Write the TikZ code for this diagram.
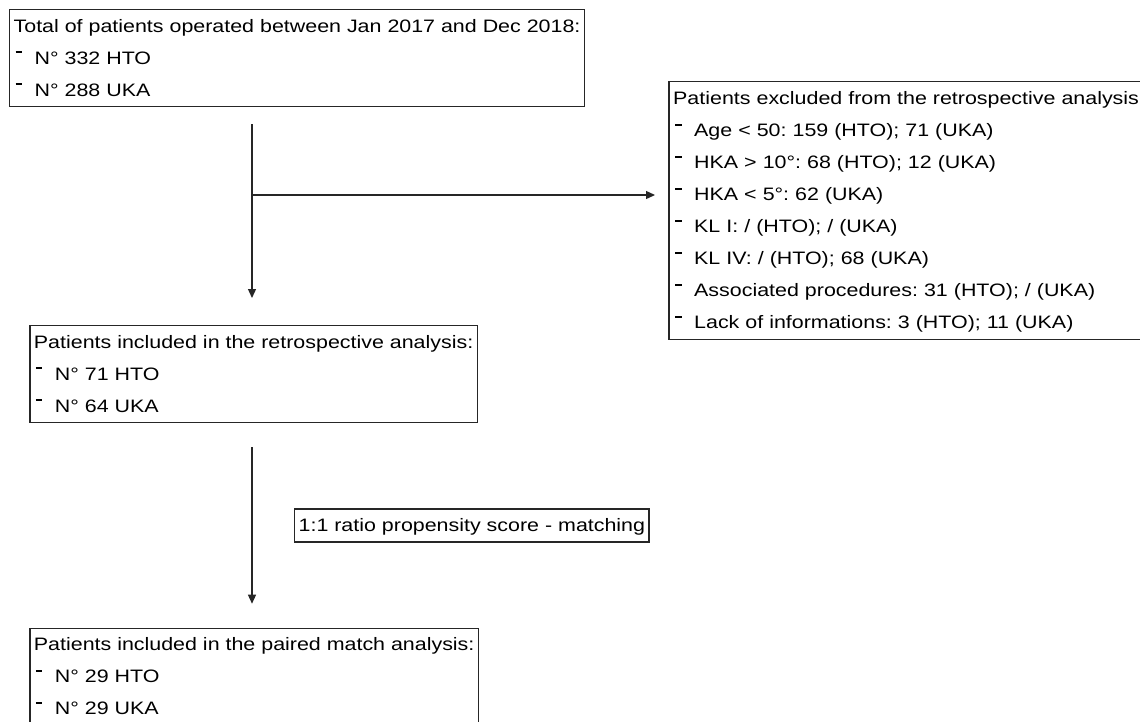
\documentclass[tikz,border=0pt]{standalone}
\usepackage{fontspec}
\setmainfont[FakeStretch=1.19]{Liberation Sans}
\usetikzlibrary{arrows.meta}
\frenchspacing
\newcommand\topst{\rule{0pt}{22.6pt}}
\newcommand\botst{\rule[-10.5pt]{0pt}{10.5pt}}
\newcommand\itm[1]{\makebox[21pt][l]{\hspace*{2pt}\rule[11pt]{6.5pt}{2pt}}#1}
\tikzset{
  flowtext/.style={align=left, anchor=north west,
    inner xsep=4pt, inner ysep=0pt, font=\fontsize{18}{32}\selectfont\frenchspacing},
  flowbox/.style={flowtext, draw=black!85, line width=1.3pt},
  edge/.style={draw=black!85, line width=1.3pt},
  arr/.style={edge, -{Triangle[length=9pt,width=8pt]}}
}
\begin{document}
\begin{tikzpicture}[x=1pt,y=-1pt]
\useasboundingbox (0,0) rectangle (1140,721);
\clip (0,0) rectangle (1140,721);
\node[flowbox] (b1) at (9,9) {\topst Total of patients operated between Jan 2017 and Dec 2018:\\
\itm{N° 332 HTO}\\
\itm{N° 288 UKA}\botst};
\node[flowtext, text width=520pt] (ex) at (669,81.7) {\topst Patients excluded from the retrospective analysis\\
\itm{Age < 50: 159 (HTO); 71 (UKA)}\\
\itm{HKA > 10°: 68 (HTO); 12 (UKA)}\\
\itm{HKA < 5°: 62 (UKA)}\\
\itm{KL I: / (HTO); / (UKA)}\\
\itm{KL IV: / (HTO); 68 (UKA)}\\
\itm{Associated procedures: 31 (HTO); / (UKA)}\\
\itm{Lack of informations: 3 (HTO); 11 (UKA)}\botst};
\draw[edge] (ex.north east) -- (ex.north west) -- (ex.south west) -- (ex.south east);
\node[flowbox] (b2) at (29.3,325) {\topst Patients included in the retrospective analysis:\\
\itm{N° 71 HTO}\\
\itm{N° 64 UKA}\botst};
\node[flowbox] (ps) at (294,508.3) {\topst 1:1 ratio propensity score - matching\botst};
\node[flowbox] (b3) at (29.3,627.7) {\topst Patients included in the paired match analysis:\\
\itm{N° 29 HTO}\\
\itm{N° 29 UKA}\botst};
\coordinate (j) at (252,195);
\draw[arr] ([yshift=-17pt]b1.south -| j) -- ([yshift=27pt]b2.north -| j);
\draw[arr] (j) -- ([xshift=-14pt]ex.west |- j);
\draw[arr] ([yshift=-24pt]b2.south -| j) -- ([yshift=24pt]b3.north -| j);
\end{tikzpicture}
\end{document}
